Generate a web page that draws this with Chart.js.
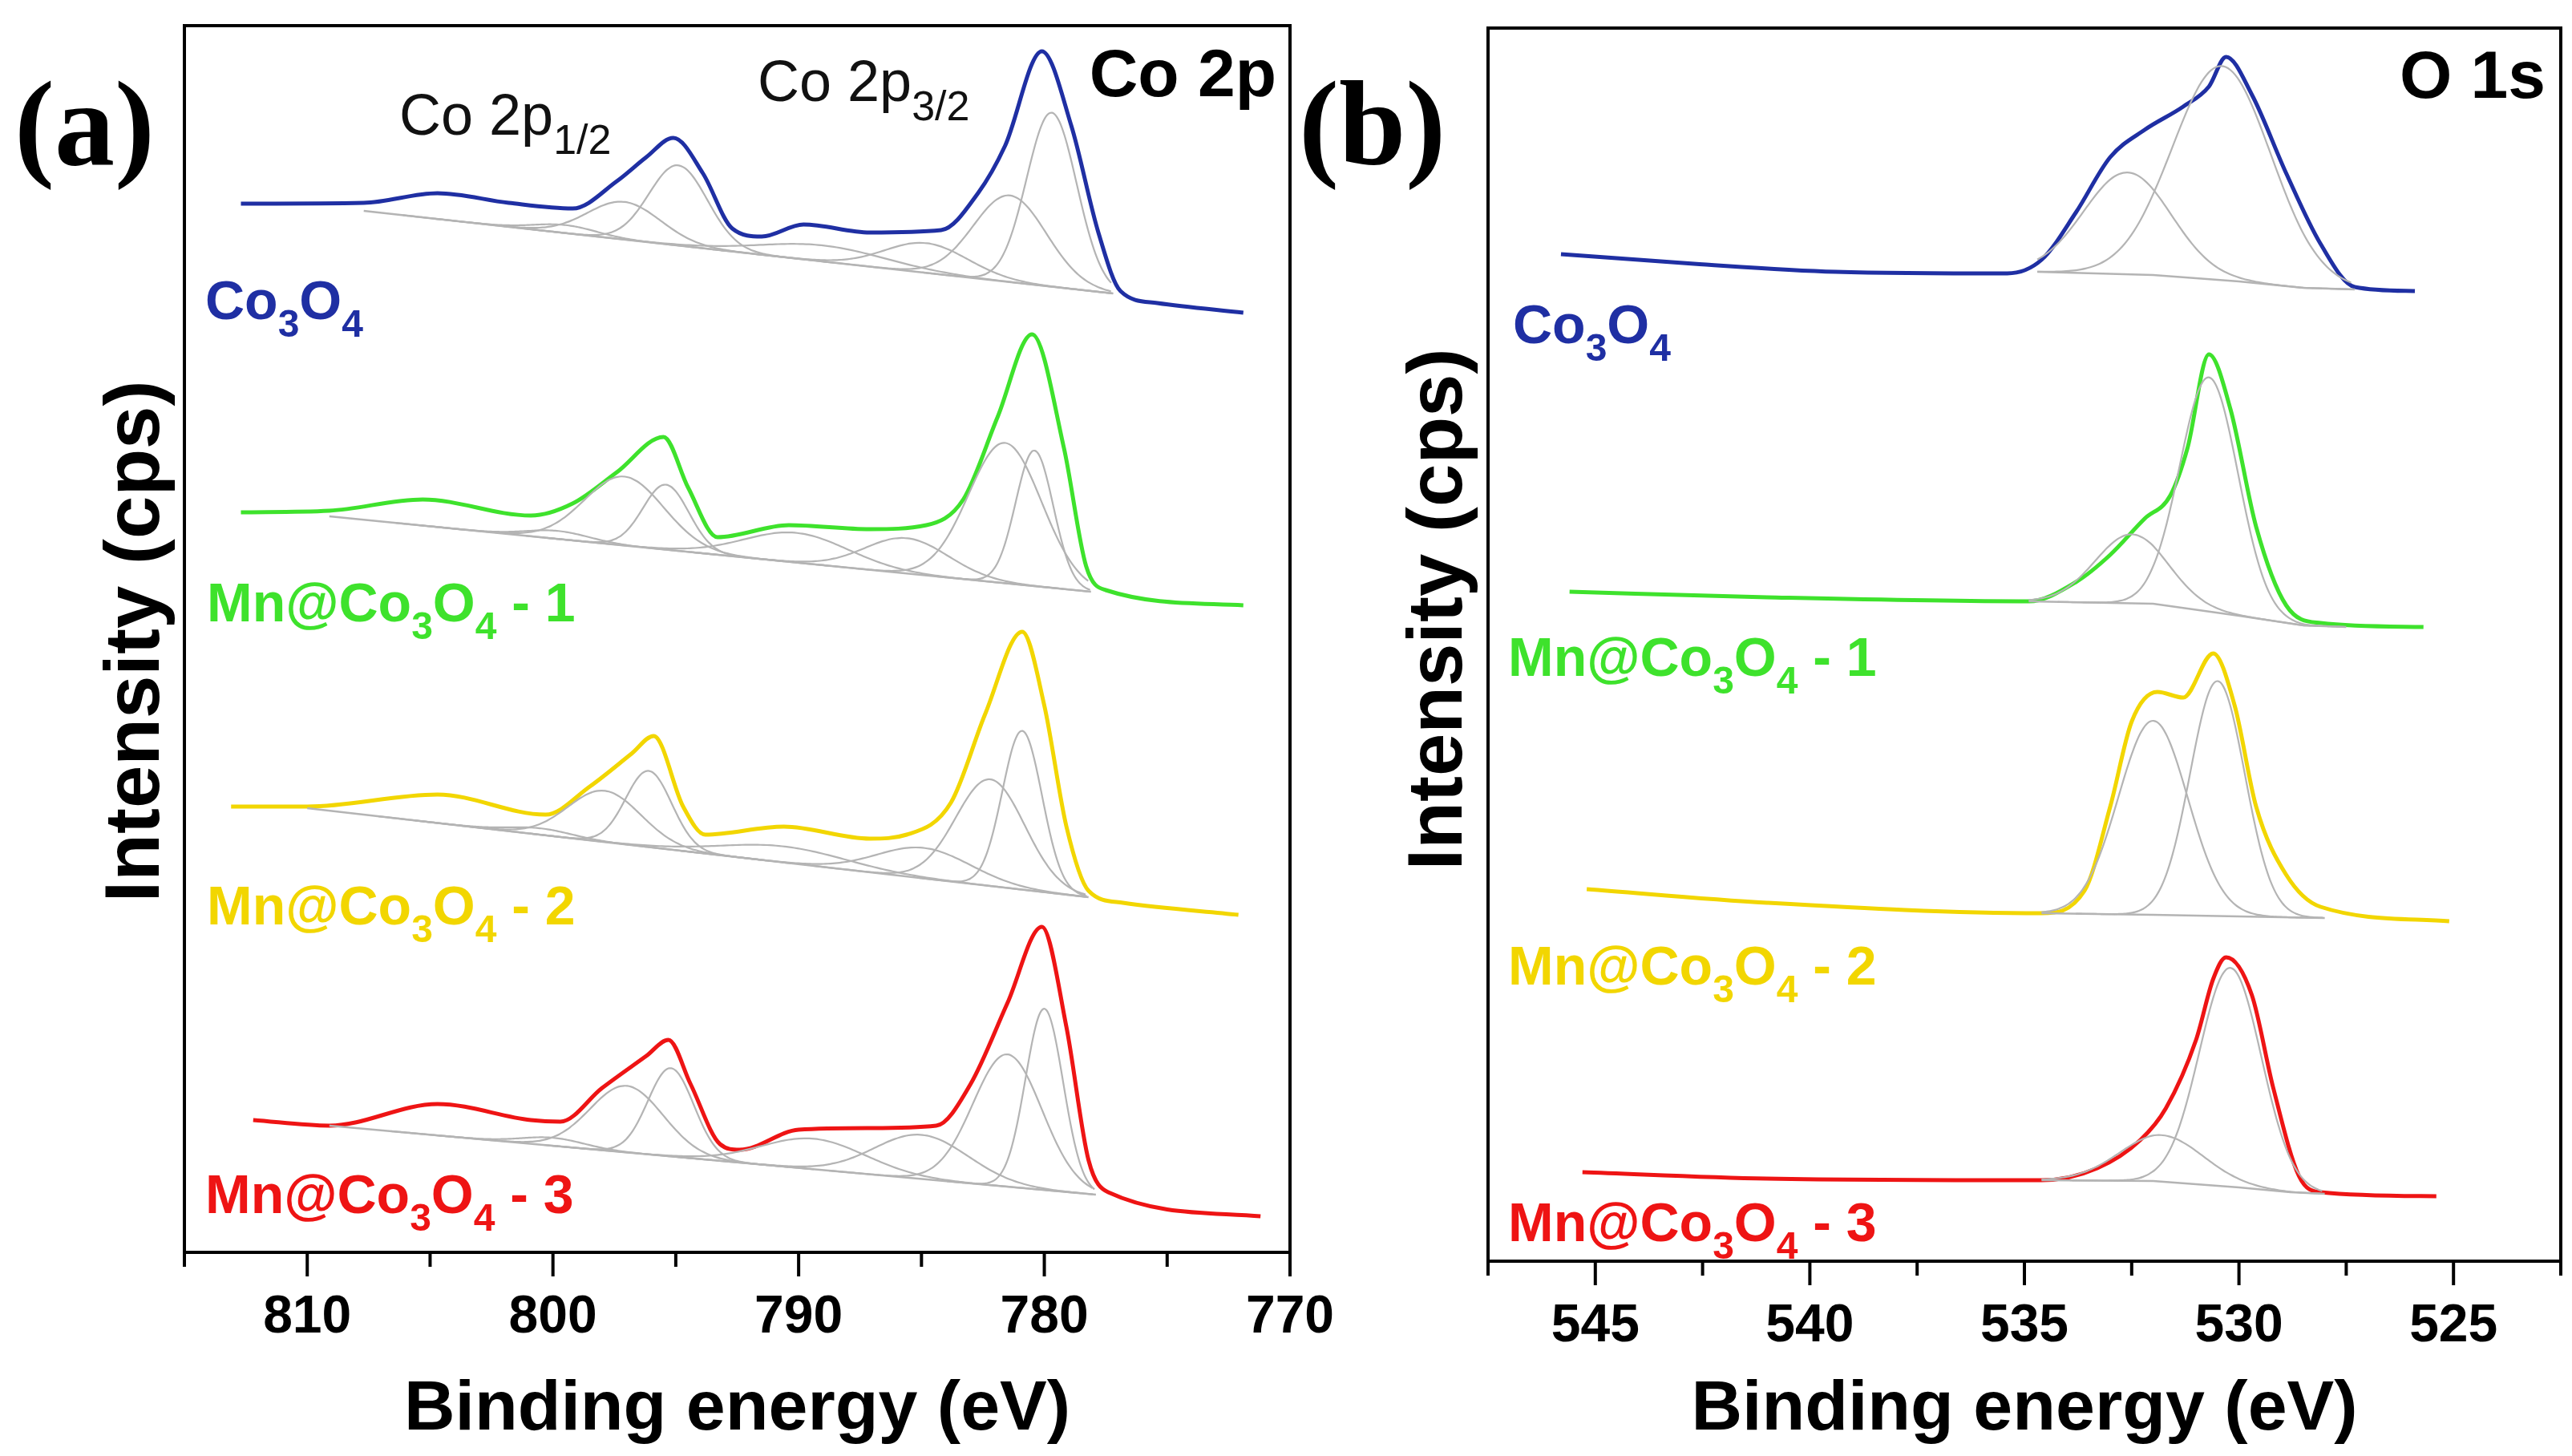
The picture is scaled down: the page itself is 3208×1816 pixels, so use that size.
<!DOCTYPE html>
<html><head><meta charset="utf-8">
<script src="https://cdn.jsdelivr.net/npm/chart.js@4/dist/chart.umd.min.js"></script>
<style>
html,body{margin:0;padding:0;background:#fff;width:3208px;height:1816px;overflow:hidden}
canvas{position:absolute;left:0;top:0}
</style></head><body>
<canvas id="ca" width="3208" height="1816"></canvas>
<canvas id="cb" width="3208" height="1816"></canvas>
<script>
// ---------- Panel (a) Co 2p : envelopes [eV, intensity] ----------
const coBlue = [[812.7,1308],[807.7,1309],[804.7,1321],[801.8,1309],[799.2,1302],[797.4,1336],[796.2,1366],[795.1,1390],[793.9,1346],[792.7,1277],[791.5,1267],[789.8,1282],[787.1,1272],[784.2,1275],[782.7,1321],[781.6,1380],[780.1,1498],[778.9,1405],[777.8,1272],[776.9,1199],[775.4,1184],[771.9,1172]];
const coGreen = [[812.7,923],[809.1,925],[805.3,939],[800.9,919],[799.2,934],[797.4,973],[795.5,1017],[794.5,954],[793.3,892],[790.4,907],[787.1,902],[784.8,907],[783.3,939],[781.9,1042],[780.5,1145],[779.2,1003],[778.3,856],[777.5,826],[771.9,807]];
const coYellow = [[813.1,556],[810.0,556],[804.7,571],[800.3,546],[798.5,581],[796.8,622],[795.9,644],[794.7,556],[793.8,521],[790.6,531],[787.1,516],[785.6,521],[783.8,561],[782.4,672],[780.9,774],[780.0,682],[779.1,531],[778.2,451],[776.8,436],[772.1,421]];
const coRed = [[812.2,165],[809.1,158],[804.7,185],[800.9,165],[799.7,163],[798.0,205],[796.2,245],[795.3,265],[794.4,210],[793.2,135],[792.4,128],[790.0,153],[787.1,155],[784.4,158],[783.0,210],[781.5,311],[780.1,406],[779.1,281],[778.2,115],[777.4,75],[771.2,45]];
// baselines [eV, intensity]
const coBlueBase = [[807.7,1299],[777.2,1196]];
const coGreenBase = [[809.1,918],[778.1,824]];
const coYellowBase = [[810.0,554],[778.2,443]];
const coRedBase = [[809.1,158],[777.9,72]];
// fitted components [centre eV, height, FWHM eV]
const coBluePeaks = [[779.7,217,2.4],[781.4,108,3.5],[784.8,37,4],[789.0,20,6],[794.9,100,2.8],[797.1,47,3.5],[799.5,10,3]];
const coGreenPeaks = [[780.4,169,1.8],[781.6,175,3.5],[785.6,44,4],[790.1,37,5],[795.4,81,2.2],[797.1,86,3.8],[799.8,10,3]];
const coYellowPeaks = [[780.9,198,1.9],[782.2,133,3.3],[784.9,38,4.5],[790.6,20,6],[796.1,95,2.2],[797.9,64,3.5],[800.5,8,3]];
const coRedPeaks = [[780.0,226,1.8],[781.5,165,3.3],[785.0,55,4.5],[789.4,38,5],[795.2,110,2.2],[797.0,83,3.5],[800.0,10,3]];

// ---------- Panel (b) O 1s ----------
const oBlue = [[545.8,1256],[542.7,1244],[539.4,1234],[535.4,1232],[534.6,1249],[533.8,1308],[533.0,1377],[532.2,1411],[531.3,1440],[530.7,1465],[530.3,1502],[529.7,1455],[528.9,1357],[528.1,1269],[527.3,1215],[525.9,1210]];
const oGreen = [[545.6,835],[541.0,828],[534.9,823],[533.8,847],[533.0,881],[532.2,926],[531.6,955],[531.2,1014],[530.7,1131],[530.2,1063],[529.6,916],[528.9,818],[528.1,796],[525.7,791]];
const oYellow = [[545.2,464],[541.0,447],[534.6,434],[533.6,462],[533.0,567],[532.5,673],[531.9,710],[531.3,703],[530.6,758],[530.1,693],[529.6,567],[528.9,482],[528.1,442],[525.1,424]];
const oRed = [[545.3,111],[541.0,103],[534.6,101],[533.3,116],[532.3,151],[531.7,191],[531.0,276],[530.6,352],[530.3,379],[529.7,332],[529.2,216],[528.6,106],[528.1,86],[525.4,81]];
const oBlueBase = [[534.7,1234],[532.0,1230],[530.0,1222],[528.5,1214],[527.3,1212]];
const oGreenBase = [[534.9,823],[532.0,820],[530.0,805],[528.5,793],[527.5,791]];
const oYellowBase = [[534.6,434],[532.0,432],[530.0,430],[528.0,428]];
const oRedBase = [[534.6,101],[532.0,100],[530.0,92],[528.8,86],[528.0,84]];
const oBluePeaks = [[530.4,267,2.7],[532.6,127,2.4]];
const oGreenPeaks = [[530.7,292,1.6],[532.5,86,2.0]];
const oYellowPeaks = [[530.5,293,1.5],[532.0,242,1.9]];
const oRedPeaks = [[530.2,273,1.7],[531.8,58,2.3]];

const coMinorTicks = [770,775,780,785,790,795,800,805,810,815];
const coLabelTicks = [770,780,790,800,810];
const oMinorTicks = [522.5,525,527.5,530,532.5,535,537.5,540,542.5,545,547.5];
const oLabelTicks = [525,530,535,540,545];

const C = {blue:'#1f2fa3', green:'#3ee22c', yellow:'#f2d600', red:'#ee1414', gray:'#b4b4b4'};

function pts(a){return a.map(p=>({x:p[0],y:p[1]}));}
function baseAt(b,x){
  if(x>=b[0][0]) return b[0][1];
  if(x<=b[b.length-1][0]) return b[b.length-1][1];
  for(let i=0;i<b.length-1;i++){const [x1,y1]=b[i],[x2,y2]=b[i+1];
    if(x<=x1&&x>=x2) return y1+(y2-y1)*(x1-x)/(x1-x2);}
}
function peakDs(pk,base){
  const [c,h,w]=pk, s=w/2.3548, out=[];
  const hi=Math.min(c+2.2*w,base[0][0]), lo=Math.max(c-2.2*w,base[base.length-1][0]);
  for(let x=hi;x>=lo;x-=w/24){
    out.push({x:x,y:baseAt(base,x)+h*Math.exp(-((x-c)**2)/(2*s*s))});
  }
  return {data:out,borderColor:C.gray,borderWidth:2.2,pointRadius:0,tension:0.2};
}
function series(env,base,peaks,col){
  const ds=[];
  ds.push({data:pts(base),borderColor:C.gray,borderWidth:2.5,pointRadius:0});
  peaks.forEach(p=>ds.push(peakDs(p,base)));
  ds.push({data:pts(env),borderColor:col,borderWidth:5,pointRadius:0,cubicInterpolationMode:'monotone'});
  return ds;
}

const FONT='"Liberation Sans", Arial, sans-serif';
function chem(ctx,x,y,parts,col,size){
  ctx.fillStyle=col;ctx.textBaseline='alphabetic';ctx.textAlign='left';
  parts.forEach(([t,sub])=>{
    ctx.font='bold '+(sub?Math.round(size*0.7):size)+'px '+FONT;
    ctx.fillText(t,x,y+(sub?size*0.32:0));
    x+=ctx.measureText(t).width;
  });
}
const lblCo=[['Co'],['3',1],['O'],['4',1]];
function lblMn(n){return [['Mn@Co'],['3',1],['O'],['4',1],[' - '+n]];}

function makePlugin(cfg){
  return {id:'deco',afterDraw(chart){
    const ctx=chart.ctx, a=chart.chartArea, xs=chart.scales.x;
    ctx.save();
    ctx.strokeStyle='#000';ctx.lineWidth=4;
    ctx.strokeRect(a.left,a.top,a.right-a.left,a.bottom-a.top);
    cfg.ticks.forEach(v=>{
      const px=xs.getPixelForValue(v);
      const major = cfg.labels2.includes(v);
      ctx.beginPath();ctx.moveTo(px,a.bottom);ctx.lineTo(px,a.bottom+(major?30:18));ctx.stroke();
    });
    ctx.save();ctx.translate(cfg.yt[0],cfg.yt[1]);ctx.rotate(-Math.PI/2);
    ctx.font='bold 96px '+FONT;ctx.fillStyle='#000';ctx.textAlign='center';ctx.textBaseline='middle';
    ctx.fillText('Intensity (cps)',0,0);ctx.restore();
    ctx.font='bold 150px "Liberation Serif", "DejaVu Serif", serif';ctx.fillStyle='#000';ctx.textAlign='left';ctx.textBaseline='alphabetic';
    ctx.fillText(cfg.letter[0],cfg.letter[1],cfg.letter[2]);
    ctx.font='bold 84px '+FONT;ctx.textAlign='right';
    ctx.fillText(cfg.title[0],cfg.title[1],cfg.title[2]);
    cfg.labels.forEach(l=>chem(ctx,l[0],l[1],l[2],l[3],68));
    if(cfg.extra) cfg.extra(ctx);
    ctx.restore();
  }};
}

function makeChart(id,datasets,xmin,xmax,ymax,pad,axisH,labelTicks,plug){
  return new Chart(document.getElementById(id),{
    type:'line',data:{datasets},
    options:{responsive:false,animation:false,devicePixelRatio:1,
      layout:{padding:pad},
      plugins:{legend:{display:false},tooltip:{enabled:false}},
      elements:{line:{fill:false}},
      scales:{
        x:{type:'linear',min:xmin,max:xmax,reverse:true,
          afterBuildTicks(s){s.ticks=labelTicks.map(v=>({value:v}));},
          afterFit(s){s.height=axisH;},
          grid:{display:false,drawTicks:false},border:{display:false},
          ticks:{autoSkip:false,padding:42,color:'#000',font:{family:FONT,size:66,weight:'bold'},maxRotation:0},
          title:{display:true,text:'Binding energy (eV)',color:'#000',font:{family:FONT,size:88,weight:'bold'},padding:{top:2}}},
        y:{min:0,max:ymax,display:false}
      }},
    plugins:[plug]});
}

const dsA=[].concat(series(coBlue,coBlueBase,coBluePeaks,C.blue),series(coGreen,coGreenBase,coGreenPeaks,C.green),series(coYellow,coYellowBase,coYellowPeaks,C.yellow),series(coRed,coRedBase,coRedPeaks,C.red));
const dsB=[].concat(series(oBlue,oBlueBase,oBluePeaks,C.blue),series(oGreen,oGreenBase,oGreenPeaks,C.green),series(oYellow,oYellowBase,oYellowPeaks,C.yellow),series(oRed,oRedBase,oRedPeaks,C.red));

const plugA=makePlugin({ticks:coMinorTicks,labels2:coLabelTicks,yt:[172,800],letter:['(a)',18,205],title:['Co 2p',1592,120],
  labels:[[256,398,lblCo,C.blue],[258,775,lblMn(1),C.green],[258,1153,lblMn(2),C.yellow],[256,1513,lblMn(3),C.red]],
  extra(ctx){
    ctx.font='72px '+FONT;ctx.fillStyle='#111';ctx.textAlign='left';
    ctx.fillText('Co 2p',498,168);let w=ctx.measureText('Co 2p').width;
    ctx.font='52px '+FONT;ctx.fillText('1/2',498+w,192);
    ctx.font='72px '+FONT;ctx.fillText('Co 2p',945,126);w=ctx.measureText('Co 2p').width;
    ctx.font='52px '+FONT;ctx.fillText('3/2',945+w,150);
  }});
const plugB=makePlugin({ticks:oMinorTicks,labels2:oLabelTicks,yt:[1797,760],letter:['(b)',1620,205],title:['O 1s',3175,122],
  labels:[[1887,428,lblCo,C.blue],[1881,843,lblMn(1),C.green],[1881,1228,lblMn(2),C.yellow],[1881,1548,lblMn(3),C.red]]});

makeChart('ca',dsA,770,815,1530,{left:230,right:1599,top:32,bottom:0},254,coLabelTicks,plugA);
makeChart('cb',dsB,522.5,547.5,1538,{left:1856,right:14,top:35,bottom:0},243,oLabelTicks,plugB);
</script></body></html>
